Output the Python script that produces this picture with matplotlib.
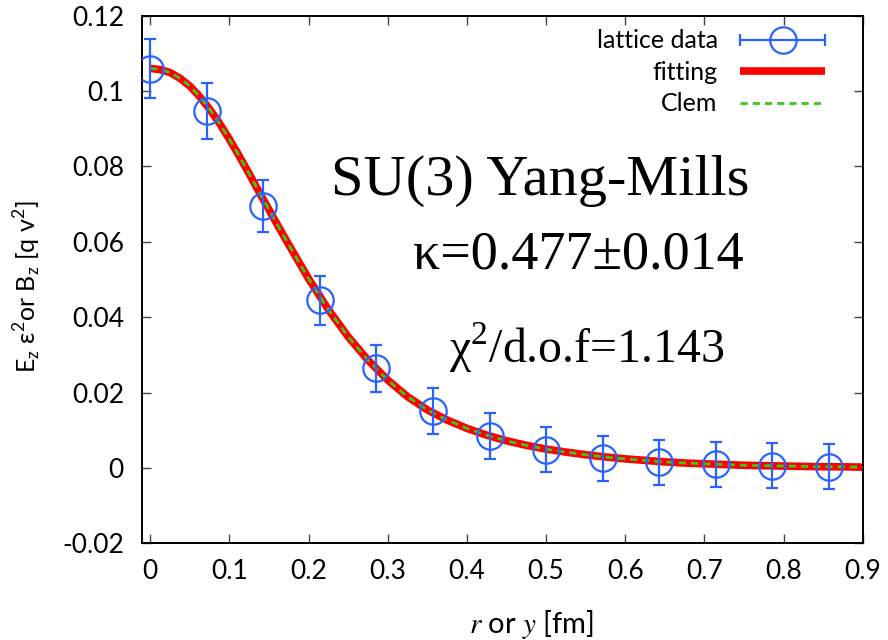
import numpy as np
import matplotlib
matplotlib.use("Agg")
import matplotlib.pyplot as plt
from matplotlib.legend_handler import HandlerErrorbar

# lattice data
r_data = [0.0, 0.0714, 0.1429, 0.2143, 0.2857, 0.3571, 0.4286,
          0.5, 0.5714, 0.6429, 0.7143, 0.7857, 0.8571]
e_data = [0.1059, 0.0947, 0.0696, 0.0445, 0.0264, 0.0150, 0.0084,
          0.0048, 0.0026, 0.0015, 0.0010, 0.0006, 0.0003]
e_err = [0.0078, 0.0075, 0.0069, 0.0065, 0.0062, 0.0061, 0.0061,
         0.0060, 0.0060, 0.0060, 0.0060, 0.0060, 0.0060]

# fitted Clem profile
r_fit = [0.0, 0.0125, 0.025, 0.0375, 0.05, 0.0625, 0.075, 0.0875, 0.1,
         0.1125, 0.125, 0.1375, 0.15, 0.1625, 0.175, 0.1875, 0.2, 0.225,
         0.25, 0.275, 0.3, 0.325, 0.35, 0.375, 0.4, 0.425, 0.45, 0.475,
         0.5, 0.525, 0.55, 0.575, 0.6, 0.625, 0.65, 0.675, 0.7, 0.725,
         0.75, 0.775, 0.8, 0.825, 0.85, 0.875, 0.9]
e_fit = [0.1060, 0.1057, 0.1049, 0.1034, 0.1013, 0.0985, 0.0952, 0.0914,
         0.0872, 0.0827, 0.0780, 0.0732, 0.0685, 0.0638, 0.0592, 0.0547,
         0.0502, 0.0420, 0.0348, 0.0286, 0.0233, 0.0189, 0.0154, 0.0127,
         0.0105, 0.0087, 0.0072, 0.0060, 0.0050, 0.0042, 0.0035, 0.0029,
         0.0024, 0.0020, 0.0016, 0.0013, 0.0011, 0.0009, 0.0007, 0.0006,
         0.0005, 0.0004, 0.0003, 0.0003, 0.0002]
e_clem = list(e_fit)

x_ticks = [0, 0.1, 0.2, 0.3, 0.4, 0.5, 0.6, 0.7, 0.8, 0.9]
x_ticklabels = ["0", "0.1", "0.2", "0.3", "0.4", "0.5", "0.6", "0.7", "0.8", "0.9"]
y_ticks = [-0.02, 0, 0.02, 0.04, 0.06, 0.08, 0.1, 0.12]
y_ticklabels = ["-0.02", "0", "0.02", "0.04", "0.06", "0.08", "0.1", "0.12"]

BLUE = "#2862ff"
RED = "#ff0000"
GREEN = "#3cc814"
SANS = ["Lato", "DejaVu Sans"]
SERIF = ["Liberation Serif", "DejaVu Serif"]

plt.rcParams["font.family"] = SANS

fig = plt.figure(figsize=(8.88, 6.4), dpi=100)
ax = fig.add_axes([0.1599, 0.1511, 0.8116, 0.8244])

# curves
ax.plot(r_fit, e_fit, color=RED, lw=5.5, solid_capstyle="butt",
        solid_joinstyle="round", zorder=2, label="fitting")
ax.plot(r_fit, e_clem, color=GREEN, lw=2, dashes=(2.6, 1.8), zorder=3,
        label="Clem")

# data with error bars
ax.errorbar(r_data, e_data, yerr=e_err, fmt="o", ms=19, mfc="none",
            mec=BLUE, mew=1.6, color=BLUE, elinewidth=1.6, capsize=4.3,
            capthick=1.6, zorder=4)

# legend proxy: gnuplot draws the error bar horizontally in the key
proxy = ax.errorbar([np.nan], [np.nan], xerr=[0.0], fmt="o", ms=19,
                    mfc="none", mec=BLUE, mew=1.6, color=BLUE,
                    elinewidth=1.6, capsize=4.3, capthick=1.6,
                    label="lattice data")

ax.set_xlim(-0.0105, 0.9)
ax.set_ylim(-0.02, 0.12)
ax.set_xticks(x_ticks)
ax.set_xticklabels(x_ticklabels)
ax.set_yticks(y_ticks)
ax.set_yticklabels(y_ticklabels)
ax.tick_params(direction="in", top=True, right=True, length=6.5, width=1,
               color="#444444", labelsize=19)
ax.tick_params(axis="y", pad=13)
ax.tick_params(axis="x", pad=11)
for s in ax.spines.values():
    s.set_linewidth(1.4)

ax.set_ylabel(r"E$_\mathregular{z}$ ε$^\mathregular{2}$or B$_\mathregular{z}$ [q v$^\mathregular{2}$]",
              fontsize=18)
ax.yaxis.set_label_coords(-0.137, 0.486)
xl = ax.set_xlabel(r"$r$ or $y$ [fm]", fontsize=21)
xl.set_math_fontfamily("stix")
ax.xaxis.set_label_coords(0.54, -0.122)

# annotations
ax.text(0.553, 0.660, "SU(3) Yang-Mills", transform=ax.transAxes,
        ha="center", va="baseline", fontsize=42, family=SERIF)
ax.text(0.606, 0.521, "κ=0.477±0.014", transform=ax.transAxes,
        ha="center", va="baseline", fontsize=39, family=SERIF)
ax.text(0.617, 0.342, r"χ$^\mathregular{2}$/d.o.f=1.143", transform=ax.transAxes,
        ha="center", va="baseline", fontsize=34.5, family=SERIF)

# legend, gnuplot style: text right-aligned, sample on the right
handles, labels = ax.get_legend_handles_labels()
order = [labels.index("lattice data"), labels.index("fitting"), labels.index("Clem")]
leg = ax.legend([handles[i] for i in order], [labels[i] for i in order],
                loc="upper right", bbox_to_anchor=(0.948, 0.974),
                frameon=False, fontsize=18, markerfirst=False,
                handlelength=3.4, handletextpad=0.9, labelspacing=0.34,
                borderpad=0, borderaxespad=0, numpoints=1,
                handler_map={type(proxy): HandlerErrorbar(xerr_size=1.7)})

fig.savefig("out.png", dpi=100)
